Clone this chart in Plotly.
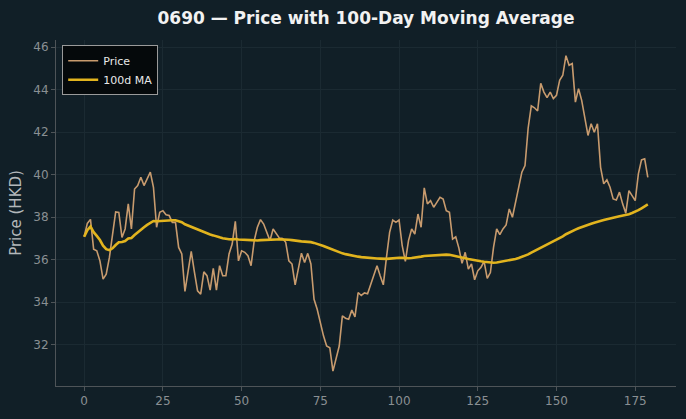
import plotly.graph_objects as go
import pandas as pd

days = list(range(180))
price = [
    37.08, 37.71, 37.90, 36.50, 36.42, 35.95, 35.09, 35.32, 36.10, 37.30,
    38.25, 38.23, 37.05, 37.45, 38.63, 37.45, 39.33, 39.49, 39.88, 39.49,
    39.81, 40.12, 39.41, 37.53, 38.23, 38.31, 38.12, 38.08, 37.76, 37.76,
    36.58, 36.27, 34.51, 35.48, 36.39, 35.43, 34.54, 34.38, 35.43, 35.25,
    34.57, 35.59, 34.57, 35.72, 35.25, 35.25, 36.27, 36.74, 37.81, 35.95,
    36.42, 36.35, 36.19, 35.72, 36.90, 37.53, 37.89, 37.68, 37.29, 36.90,
    37.45, 37.21, 37.02, 37.00, 36.82, 35.95, 35.80, 34.82, 35.64, 36.31,
    35.87, 36.30, 35.80, 34.14, 33.67, 32.97, 32.42, 31.94, 31.86, 30.76,
    31.31, 31.94, 33.36, 33.25, 33.20, 33.63, 33.31, 34.46, 34.32, 34.44,
    34.40, 34.85, 35.32, 35.72, 35.25, 34.82, 36.11, 37.29, 37.87, 37.76,
    37.87, 36.66, 35.92, 36.90, 37.45, 37.21, 38.15, 37.53, 39.38, 38.63,
    38.78, 38.47, 38.70, 38.94, 38.86, 38.31, 38.23, 36.97, 37.08, 36.55,
    35.83, 36.35, 35.56, 35.80, 35.06, 35.48, 35.64, 35.92, 35.12, 35.40,
    36.58, 37.45, 37.18, 37.45, 37.64, 38.39, 38.00, 38.70, 39.57, 40.12,
    40.43, 42.20, 43.24, 43.15, 43.00, 44.30, 43.89, 43.63, 43.89, 43.58,
    43.74, 44.44, 44.68, 45.60, 45.15, 45.23, 43.42, 44.05, 43.50, 42.71,
    41.85, 42.40, 42.00, 42.40, 40.35, 39.57, 39.76, 39.41, 38.86, 38.81,
    39.18, 38.63, 38.19, 39.25, 39.02, 38.78, 40.04, 40.70, 40.75, 39.88,
]
ma_window = 100
ma = pd.Series(price).rolling(ma_window, min_periods=1).mean().tolist()

x_ticks = [0, 25, 50, 75, 100, 125, 150, 175]
y_ticks = [32, 34, 36, 38, 40, 42, 44, 46]

BG = "#111f27"
GRID = "#1b2a32"
AXIS = "#4e5458"
TICK = "#8a8f93"

fig = go.Figure()
fig.add_trace(go.Scatter(x=days, y=price, mode="lines", name="Price",
                         line=dict(color="#c89b6e", width=1.6)))
fig.add_trace(go.Scatter(x=days, y=ma, mode="lines", name="100d MA",
                         line=dict(color="#e2b41e", width=2.6)))

fig.update_layout(
    width=686, height=419,
    paper_bgcolor=BG, plot_bgcolor=BG,
    font=dict(family="DejaVu Sans", color=TICK, size=12),
    margin=dict(l=56, r=10, t=40, b=33),
    title=dict(text="<b>0690 — Price with 100-Day Moving Average</b>",
               x=0.5, xref="paper", xanchor="center", y=0.957, yanchor="middle",
               font=dict(size=17, color="#f2f2f2", family="DejaVu Sans")),
    showlegend=True,
    legend=dict(x=0.01, y=0.985, xanchor="left", yanchor="top",
                bgcolor="#05090b", bordercolor="#9a9a9a", borderwidth=1,
                font=dict(size=11, color="#e8e8e8"),
                itemwidth=30, tracegroupgap=2),
)
fig.update_xaxes(range=[-8.95, 187.95], tickvals=x_ticks,
                 showgrid=True, gridcolor=GRID, gridwidth=1,
                 zeroline=False, showline=True, linecolor=AXIS, linewidth=1,
                 ticks="outside", ticklen=4, tickcolor=AXIS,
                 tickfont=dict(size=12, color=TICK), mirror=False)
fig.update_yaxes(range=[30.06, 46.34], tickvals=y_ticks,
                 showgrid=True, gridcolor=GRID, gridwidth=1,
                 zeroline=False, showline=True, linecolor=AXIS, linewidth=1,
                 ticks="outside", ticklen=4, tickcolor=AXIS,
                 tickfont=dict(size=12, color=TICK),
                 title=dict(text="Price (HKD)", font=dict(size=15, color="#b4b8bb"),
                            standoff=8))

fig.write_html("out.html")
